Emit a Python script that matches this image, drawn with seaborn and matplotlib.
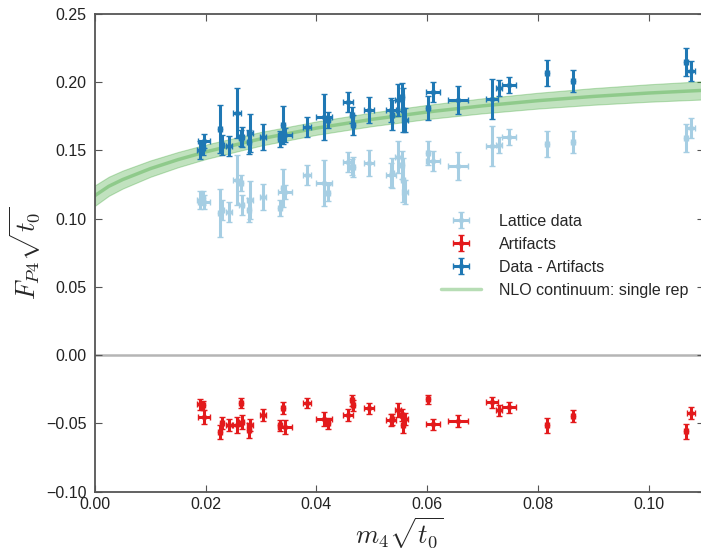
import numpy as np
import pandas as pd
import matplotlib
matplotlib.use("Agg")
import matplotlib.pyplot as plt
import seaborn as sns

# ---------------- data ----------------
m4 = [0.0190, 0.0195, 0.0197, 0.0226, 0.0229, 0.0242, 0.0256, 0.0264, 0.0265, 0.0278,
      0.0280, 0.0303, 0.0334, 0.0340, 0.0343, 0.0383, 0.0414, 0.0421, 0.0457, 0.0464,
      0.0466, 0.0495, 0.0535, 0.0536, 0.0547, 0.0554, 0.0556, 0.0560, 0.0601, 0.0610,
      0.0656, 0.0717, 0.0730, 0.0748, 0.0816, 0.0863, 0.1067, 0.1076]
m4_err = [0.0005, 0.0004, 0.0011, 0.0004, 0.0004, 0.0005, 0.0007, 0.0004, 0.0005, 0.0004,
          0.0005, 0.0005, 0.0004, 0.0004, 0.0013, 0.0007, 0.0014, 0.0004, 0.0009, 0.0004,
          0.0004, 0.0009, 0.0009, 0.0004, 0.0005, 0.0004, 0.0004, 0.0005, 0.0004, 0.0013,
          0.0018, 0.0011, 0.0005, 0.0013, 0.0004, 0.0004, 0.0004, 0.0007]
lattice = [0.1136, 0.1150, 0.1121, 0.1041, 0.1063, 0.1048, 0.1282, 0.1261, 0.1099, 0.1063,
           0.1136, 0.1158, 0.1077, 0.1224, 0.1195, 0.1319, 0.1261, 0.1187, 0.1414, 0.1378,
           0.1378, 0.1407, 0.1319, 0.1334, 0.1451, 0.1393, 0.1282, 0.1195, 0.1480, 0.1422,
           0.1385, 0.1531, 0.1539, 0.1597, 0.1546, 0.1561, 0.1590, 0.1664]
artifacts = [-0.0359, -0.0367, -0.0454, -0.0564, -0.0498, -0.0513, -0.0513, -0.0352, -0.0491, -0.0550,
             -0.0513, -0.0440, -0.0513, -0.0388, -0.0528, -0.0352, -0.0469, -0.0498, -0.0440, -0.0330,
             -0.0367, -0.0388, -0.0476, -0.0469, -0.0403, -0.0440, -0.0513, -0.0469, -0.0323, -0.0506,
             -0.0484, -0.0345, -0.0403, -0.0381, -0.0513, -0.0447, -0.0557, -0.0425]
artifacts_err = [0.0040, 0.0035, 0.0050, 0.0050, 0.0045, 0.0045, 0.0060, 0.0035, 0.0050, 0.0055,
                 0.0045, 0.0045, 0.0040, 0.0045, 0.0050, 0.0035, 0.0050, 0.0040, 0.0045, 0.0040,
                 0.0040, 0.0040, 0.0045, 0.0040, 0.0050, 0.0045, 0.0055, 0.0045, 0.0035, 0.0040,
                 0.0045, 0.0040, 0.0040, 0.0040, 0.0055, 0.0045, 0.0055, 0.0045]
data_minus_art = [0.1502, 0.1517, 0.1568, 0.1656, 0.1539, 0.1531, 0.1773, 0.1590, 0.1597, 0.1561,
                  0.1627, 0.1597, 0.1583, 0.1685, 0.1612, 0.1670, 0.1744, 0.1722, 0.1854, 0.1759,
                  0.1685, 0.1795, 0.1795, 0.1759, 0.1868, 0.1890, 0.1795, 0.1722, 0.1810, 0.1927,
                  0.1868, 0.1876, 0.1956, 0.1978, 0.2066, 0.2008, 0.2147, 0.2081]
stat_err = [0.0066, 0.0051, 0.0051, 0.0176, 0.0073, 0.0073, 0.0183, 0.0059, 0.0073, 0.0088,
            0.0139, 0.0095, 0.0059, 0.0139, 0.0051, 0.0073, 0.0169, 0.0059, 0.0073, 0.0059,
            0.0073, 0.0095, 0.0088, 0.0110, 0.0117, 0.0103, 0.0161, 0.0088, 0.0088, 0.0073,
            0.0103, 0.0147, 0.0059, 0.0059, 0.0095, 0.0081, 0.0103, 0.0073]

# NLO continuum curve (centre and half-width of band)
nlo_x = [0.0, 0.0025, 0.005, 0.01, 0.015, 0.02, 0.03, 0.04, 0.05, 0.06, 0.07, 0.08, 0.09, 0.10, 0.11]
nlo_y = [0.1170, 0.1238, 0.1287, 0.1367, 0.1433, 0.1490, 0.1586, 0.1664, 0.1728, 0.1782,
         0.1827, 0.1865, 0.1896, 0.1921, 0.1941]
nlo_err = [0.0075, 0.0070, 0.0066, 0.0060, 0.0056, 0.0053, 0.0050, 0.0049, 0.0050, 0.0052,
           0.0055, 0.0058, 0.0061, 0.0064, 0.0067]

x_ticks = [0.00, 0.02, 0.04, 0.06, 0.08, 0.10]
y_ticks = [-0.10, -0.05, 0.00, 0.05, 0.10, 0.15, 0.20, 0.25]

c_light = "#a6cee3"
c_red = "#e31a1c"
c_dark = "#1f78b4"
c_green = "#33a02c"

# ---------------- style ----------------
sns.set_style("ticks")
plt.rcParams["font.family"] = ["Liberation Sans", "DejaVu Sans"]
plt.rcParams["mathtext.fontset"] = "cm"
plt.rcParams.update({
    "xtick.direction": "in", "ytick.direction": "in",
    "xtick.top": True, "ytick.right": True,
    "xtick.major.size": 5, "ytick.major.size": 5,
    "xtick.color": "#555555", "ytick.color": "#555555",
    "xtick.labelcolor": "#222222", "ytick.labelcolor": "#222222",
    "axes.edgecolor": "#555555",
})

fig = plt.figure(figsize=(7.01, 5.53), dpi=100)
ax = fig.add_axes([95 / 701, 61.3 / 553, 609 / 701, 477.7 / 553])

# NLO band + line
nlo_df = pd.DataFrame({"x": nlo_x, "y": nlo_y})
lo = np.array(nlo_y) - np.array(nlo_err)
hi = np.array(nlo_y) + np.array(nlo_err)
ax.fill_between(nlo_x, lo, hi, color=c_green, alpha=0.3, lw=0.8, edgecolor=c_green, zorder=1)
sns.lineplot(data=nlo_df, x="x", y="y", ax=ax, color=c_green, alpha=0.35, lw=2.5,
             label="NLO continuum: single rep", zorder=2)

ax.axhline(0.0, color="#b5b5b5", lw=1.8, zorder=0)

eb_kw = dict(fmt="o", ms=3.0, elinewidth=2.2, capsize=2.5, capthick=1.0, zorder=3)
h1 = ax.errorbar(m4, lattice, xerr=m4_err, yerr=stat_err, color=c_light, mec=c_light,
                 label="Lattice data", **eb_kw)
h2 = ax.errorbar(m4, artifacts, xerr=m4_err, yerr=artifacts_err, color=c_red, mec=c_red,
                 label="Artifacts", **eb_kw)
h3 = ax.errorbar(m4, data_minus_art, xerr=m4_err, yerr=stat_err, color=c_dark, mec=c_dark,
                 label="Data - Artifacts", **eb_kw)

ax.set_xlim(0.0, 0.11)
ax.set_ylim(-0.10, 0.25)
ax.set_xticks(x_ticks)
ax.set_yticks(y_ticks)
fmt = matplotlib.ticker.FuncFormatter(lambda v, p: ("%.2f" % v).replace("-", "\u2212"))
ax.xaxis.set_major_formatter(fmt)
ax.yaxis.set_major_formatter(fmt)
ax.tick_params(labelsize=11.5, pad=6)
ax.xaxis.set_tick_params(pad=4)
for sp in ax.spines.values():
    sp.set_linewidth(1.3)

ax.set_xlabel(r"$m_4\sqrt{t_0}$", fontsize=19, labelpad=2)
ax.set_ylabel(r"$F_{P4}\sqrt{t_0}$", fontsize=19, labelpad=2)

handles, labels = ax.get_legend_handles_labels()
order = ["Lattice data", "Artifacts", "Data - Artifacts", "NLO continuum: single rep"]
hd = dict(zip(labels, handles))
ax.legend([hd[k] for k in order], order, loc="upper left", bbox_to_anchor=(0.545, 0.612),
          frameon=False, fontsize=11.5, handlelength=2.5, labelspacing=0.5, handletextpad=1.1)

fig.savefig("out.png", dpi=100)
